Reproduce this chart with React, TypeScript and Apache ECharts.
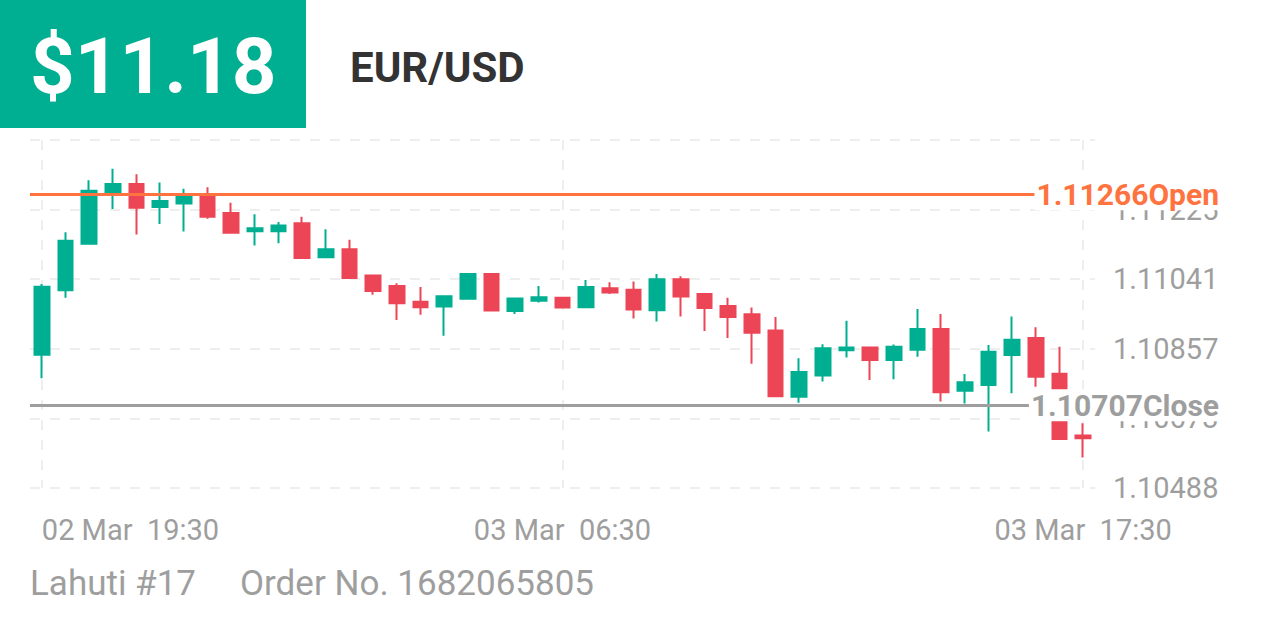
import React, { useEffect, useRef } from "react";
import * as echarts from "echarts";

const categories = [
  "02 Mar  19:30", "02 Mar  20:00", "02 Mar  20:30", "02 Mar  21:00", "02 Mar  21:30",
  "02 Mar  22:00", "02 Mar  22:30", "02 Mar  23:00", "02 Mar  23:30", "03 Mar  00:00",
  "03 Mar  00:30", "03 Mar  01:00", "03 Mar  01:30", "03 Mar  02:00", "03 Mar  02:30",
  "03 Mar  03:00", "03 Mar  03:30", "03 Mar  04:00", "03 Mar  04:30", "03 Mar  05:00",
  "03 Mar  05:30", "03 Mar  06:00", "03 Mar  06:30", "03 Mar  07:00", "03 Mar  07:30",
  "03 Mar  08:00", "03 Mar  08:30", "03 Mar  09:00", "03 Mar  09:30", "03 Mar  10:00",
  "03 Mar  10:30", "03 Mar  11:00", "03 Mar  11:30", "03 Mar  12:00", "03 Mar  12:30",
  "03 Mar  13:00", "03 Mar  13:30", "03 Mar  14:00", "03 Mar  14:30", "03 Mar  15:00",
  "03 Mar  15:30", "03 Mar  16:00", "03 Mar  16:30", "03 Mar  17:00", "03 Mar  17:30",
];

const openValues = [
  1.10841, 1.11012, 1.11135, 1.11269, 1.11293, 1.11232, 1.11241, 1.11265, 1.11216, 1.11168,
  1.11168, 1.11189, 1.11099, 1.1112, 1.11051, 1.11023, 1.10981, 1.10969, 1.10989, 1.11055,
  1.10957, 1.10984, 1.10992, 1.10967, 1.11017, 1.11013, 1.10959, 1.11041, 1.11002, 1.1097,
  1.10948, 1.10905, 1.1073, 1.10786, 1.10853, 1.1086, 1.10827, 1.10854, 1.10909, 1.10746,
  1.10761, 1.1084, 1.10885, 1.10791, 1.10627,
];
const closeValues = [
  1.11021, 1.11143, 1.11275, 1.11293, 1.1123, 1.11248, 1.11264, 1.11206, 1.11164, 1.11176,
  1.11183, 1.11097, 1.1112, 1.11044, 1.1101, 1.10977, 1.10967, 1.10996, 1.11055, 1.10958,
  1.1099, 1.10993, 1.10966, 1.1102, 1.11006, 1.10961, 1.11041, 1.10995, 1.10965, 1.10941,
  1.10899, 1.10731, 1.10795, 1.10858, 1.1086, 1.10827, 1.10862, 1.10909, 1.10742, 1.10768,
  1.10849, 1.10881, 1.10783, 1.10618, 1.1062,
];
const lowValues = [
  1.10779, 1.10992, 1.11133, 1.11227, 1.11159, 1.11187, 1.11167, 1.11201, 1.11163, 1.1113,
  1.11136, 1.11096, 1.11098, 1.11043, 1.11, 1.10933, 1.10947, 1.10891, 1.10988, 1.10958,
  1.10949, 1.10979, 1.10964, 1.10966, 1.11002, 1.10937, 1.10929, 1.10942, 1.10904, 1.10885,
  1.10817, 1.1073, 1.10714, 1.1077, 1.10834, 1.10774, 1.10776, 1.10836, 1.10717, 1.10712,
  1.10638, 1.10739, 1.10756, 1.10617, 1.10569,
];
const highValues = [
  1.11028, 1.11165, 1.11303, 1.11333, 1.11319, 1.11297, 1.1128, 1.11284, 1.11243, 1.11213,
  1.11192, 1.11206, 1.11173, 1.11145, 1.11052, 1.1103, 1.1102, 1.10998, 1.11057, 1.11057,
  1.10991, 1.11023, 1.10993, 1.11039, 1.11033, 1.11035, 1.11055, 1.11049, 1.11003, 1.10992,
  1.10966, 1.10941, 1.10832, 1.10869, 1.10931, 1.10861, 1.10868, 1.10962, 1.10949, 1.1079,
  1.10867, 1.10942, 1.10914, 1.10862, 1.1066,
];

const openPrice = 1.11266;
const closePrice = 1.10707;

const yMin = 1.1048832;
const yMax = 1.1140932;
const yInterval = 0.001842;

const priceText = "$11.18";
const pairText = "EUR/USD";
const accountText = "Lahuti #17";
const orderText = "Order No. 1682065805";

const UP = "#00af91";
const DOWN = "#eb4556";
const ORANGE = "#ff7340";
const GRAY = "#9e9e9e";
const FONT = "Roboto, 'Noto Sans', sans-serif";

export default function App() {
  const ref = useRef<HTMLDivElement>(null);

  useEffect(() => {
    if (!ref.current) return;
    const chart = echarts.init(ref.current, null, { renderer: "svg" });
    const candleData = openValues.map((o, i) => [o, closeValues[i], lowValues[i], highValues[i]]);

    const lineLabel = (color: string, suffix: string) => ({
      show: true,
      position: "end",
      align: "right",
      distance: 126,
      formatter: (p: any) => Number(p.value).toFixed(5) + suffix,
      color,
      fontSize: 30,
      fontWeight: "bold",
      fontFamily: FONT,
      backgroundColor: "#ffffff",
      padding: [2, 2, 0, 2],
    });

    chart.setOption({
      animation: false,
      backgroundColor: "#ffffff",
      grid: { left: 30, right: 171, top: 140, bottom: 145, containLabel: false },
      xAxis: {
        type: "category",
        data: categories,
        boundaryGap: true,
        axisLine: { show: false },
        axisTick: { show: false },
        axisLabel: {
          interval: 21,
          color: GRAY,
          fontSize: 29,
          fontFamily: FONT,
          margin: 27,
          alignMinLabel: "left",
        },
        splitLine: {
          show: true,
          interval: 21,
          alignWithLabel: true,
          lineStyle: { color: "#eeeeee", width: 2, type: [10, 10] },
        },
      },
      yAxis: {
        type: "value",
        position: "right",
        min: yMin,
        max: yMax,
        interval: yInterval,
        scale: true,
        axisLine: { show: false },
        axisTick: { show: false },
        axisLabel: {
          formatter: (v: number) => v.toFixed(5),
          showMaxLabel: false,
          color: GRAY,
          fontSize: 29,
          fontFamily: FONT,
          margin: 18,
        },
        splitLine: {
          show: true,
          lineStyle: { color: "#eeeeee", width: 2, type: [10, 10] },
        },
      },
      series: [
        {
          type: "candlestick",
          data: candleData,
          barWidth: 15,
          clip: false,
          itemStyle: {
            color: UP,
            color0: DOWN,
            borderColor: UP,
            borderColor0: DOWN,
            borderWidth: 2,
          },
          markLine: {
            silent: true,
            precision: 5,
            symbol: ["none", "none"],
            animation: false,
            data: [
              {
                yAxis: openPrice,
                lineStyle: { color: ORANGE, width: 3, type: "solid" },
                label: lineLabel(ORANGE, "Open"),
              },
              {
                yAxis: closePrice,
                lineStyle: { color: GRAY, width: 3, type: "solid" },
                label: lineLabel(GRAY, "Close"),
              },
            ],
          },
        },
      ],
      graphic: [
        { type: "rect", left: 0, top: 0, shape: { width: 306, height: 128 }, style: { fill: UP } },
        {
          type: "text",
          x: 30,
          y: 66,
          style: {
            text: priceText,
            fill: "#ffffff",
            fontSize: 78,
            fontWeight: "bold",
            fontFamily: FONT,
            verticalAlign: "middle",
          },
        },
        {
          type: "text",
          x: 350,
          y: 67,
          style: {
            text: pairText,
            fill: "#333333",
            fontSize: 42,
            fontWeight: "bold",
            fontFamily: FONT,
            verticalAlign: "middle",
          },
        },
        {
          type: "text",
          x: 30,
          y: 583,
          style: { text: accountText, fill: GRAY, fontSize: 35, fontFamily: FONT, verticalAlign: "middle" },
        },
        {
          type: "text",
          x: 240,
          y: 583,
          style: { text: orderText, fill: GRAY, fontSize: 35, fontFamily: FONT, verticalAlign: "middle" },
        },
      ],
    });
    return () => chart.dispose();
  }, []);

  return (
    <div
      ref={ref}
      style={{ position: "absolute", left: 0, top: 0, width: 1266, height: 633, background: "#fff" }}
    />
  );
}
